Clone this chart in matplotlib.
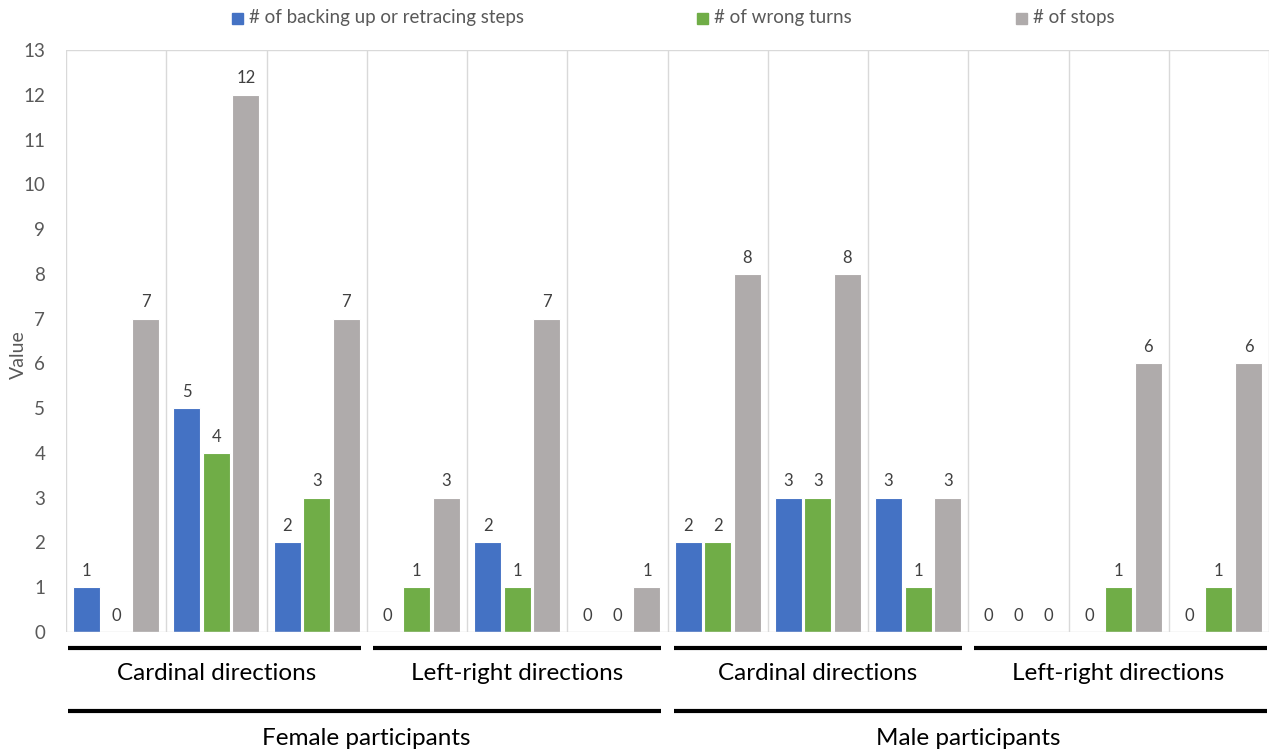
import matplotlib
matplotlib.use("Agg")
import matplotlib.pyplot as plt
import numpy as np
from matplotlib.patches import Rectangle

plt.rcParams["font.family"] = ["Lato", "DejaVu Sans"]

# data
series_names = ["# of backing up or retracing steps", "# of wrong turns", "# of stops"]
backing_up = [1, 5, 2, 0, 2, 0, 2, 3, 3, 0, 0, 0]
wrong_turns = [0, 4, 3, 1, 1, 0, 2, 3, 1, 0, 1, 1]
stops = [7, 12, 7, 3, 7, 1, 8, 8, 3, 0, 6, 6]
direction_labels = ["Cardinal directions", "Left-right directions",
                    "Cardinal directions", "Left-right directions"]
gender_labels = ["Female participants", "Male participants"]

colors = ["#4472C4", "#70AD47", "#AFABAB"]
grid_color = "#D9D9D9"
text_grey = "#595959"

fig = plt.figure(figsize=(12.69, 7.52), dpi=100)
ax = fig.add_axes([66 / 1269, 1 - 632 / 752, 1203 / 1269, 582 / 752])

x = np.arange(len(stops))
offset = 0.295
width = 0.27
for i, vals in enumerate([backing_up, wrong_turns, stops]):
    bars = ax.bar(x + (i - 1) * offset, vals, width, color=colors[i],
                  edgecolor="white", linewidth=0.8, zorder=3)
    for b, v in zip(bars, vals):
        ax.annotate(str(v), (b.get_x() + b.get_width() / 2, v),
                    xytext=(0, 6), textcoords="offset points",
                    ha="center", va="bottom", fontsize=12, color="#404040")

# frame / grid
for xb in np.arange(-0.5, len(stops), 1.0):
    ax.axvline(xb, color=grid_color, linewidth=1, zorder=1)
ax.axhline(13, color=grid_color, linewidth=1, zorder=1)
ax.axhline(0, color=grid_color, linewidth=1, zorder=4)
for s in ax.spines.values():
    s.set_visible(False)

ax.set_xlim(-0.5, len(stops) - 0.5)
ax.set_ylim(0, 13)
ax.set_yticks(range(14))
ax.tick_params(axis="y", length=0, pad=15, labelsize=13.5, labelcolor=text_grey)
ax.set_xticks([])
fig.text(18 / 1269, 1 - 355 / 752, "Value", rotation=90, ha="center",
         va="center", fontsize=14, color=text_grey)

# hierarchical category axis
tr = ax.get_xaxis_transform()
for k, lab in enumerate(direction_labels):
    x0, x1 = -0.5 + 3 * k, 2.5 + 3 * k
    a = x0 + (0.02 if k == 0 else 0.06)
    b = x1 - (0.02 if k == 3 else 0.06)
    ax.plot([a, b], [-0.0275, -0.0275], color="black", lw=3,
            transform=tr, clip_on=False, solid_capstyle="butt")
    ax.text((x0 + x1) / 2, -0.072, lab, transform=tr, ha="center",
            va="center", fontsize=17.5, color="black")
for k, lab in enumerate(gender_labels):
    x0, x1 = -0.5 + 6 * k, 5.5 + 6 * k
    a = x0 + (0.02 if k == 0 else 0.06)
    b = x1 - (0.02 if k == 1 else 0.06)
    ax.plot([a, b], [-0.1357, -0.1357], color="black", lw=3,
            transform=tr, clip_on=False, solid_capstyle="butt")
    ax.text((x0 + x1) / 2, -0.183, lab, transform=tr, ha="center",
            va="center", fontsize=17.5, color="black")

# legend at the top
legend_x = [232, 697, 1016]
for px, name, c in zip(legend_x, series_names, colors):
    fig.add_artist(Rectangle((px / 1269, 1 - 24 / 752), 11 / 1269, 11 / 752,
                             transform=fig.transFigure, color=c))
    fig.text((px + 17) / 1269, 1 - 18 / 752, name, ha="left", va="center",
             fontsize=13.5, color=text_grey)

fig.savefig("out.png", dpi=100)
